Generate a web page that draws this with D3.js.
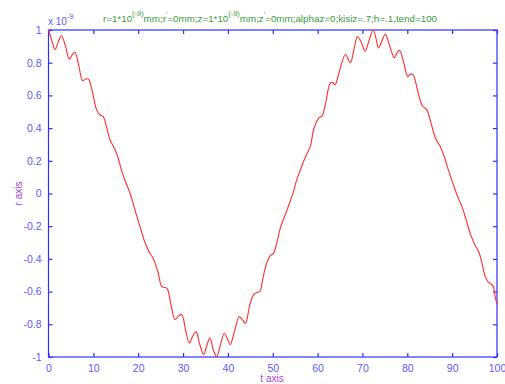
<!DOCTYPE html>
<html>
<head>
<meta charset="utf-8">
<script src="https://cdn.jsdelivr.net/npm/d3@7/dist/d3.min.js"></script>
<style>
  html, body { margin: 0; padding: 0; background: #fff; }
  svg { display: block; font-family: "Liberation Sans", Arial, sans-serif; }
</style>
</head>
<body>
<svg id="chart" width="505" height="384"></svg>
<script>
// r(t), in units of 1e-9 (the axis multiplier)
const tValues = [
  0, 0.7, 1.45, 2.2, 2.9, 3.8, 4.65, 5.3, 5.9, 6.7, 7.6, 8.3, 8.9, 9.8, 10.75,
  11.5, 12.2, 13, 13.7, 14.8, 15.5, 16.3, 17.2, 18.2, 19.7, 20.6, 21.5, 22.5,
  23.4, 24.4, 25.3, 26.4, 27.3, 28.2, 29.0, 29.7, 30.6, 31.4, 32.2, 32.9, 33.8,
  34.6, 35.3, 36.0, 36.8, 37.5, 38.4, 39.2, 39.9, 40.5, 41.5, 42.5, 43.2, 43.9,
  44.9, 45.7, 46.4, 47.1, 47.8, 48.7, 49.5, 50.2, 51, 51.7, 53.2, 54.6, 55.3,
  56.1, 57.3, 58.4, 59.1, 60.2, 61.0, 61.7, 62.8, 63.3, 63.9, 64.5, 65.1, 66.2,
  67.3, 68.1, 68.9, 69.8, 70.6, 71.5, 72.4, 73.0, 73.6, 74.3, 75.1, 76.1, 77.1,
  77.7, 78.3, 79.2, 80.1, 80.7, 81.3, 82.3, 83.3, 84.4, 85.1, 85.9, 86.6, 87.4,
  88.3, 89.2, 90.7, 91.4, 92.2, 93.1, 94.1, 95.0, 95.9, 96.6, 97.4, 98.0, 98.5,
  99.1, 99.6, 100
];
const rValues = [
  1.0, 0.94, 0.88, 0.93, 0.965, 0.9, 0.82, 0.85, 0.864, 0.79, 0.69, 0.70, 0.70,
  0.62, 0.51, 0.48, 0.47, 0.40, 0.33, 0.27, 0.22, 0.14, 0.07, 0.0, -0.14, -0.22,
  -0.30, -0.36, -0.40, -0.48, -0.57, -0.58, -0.68, -0.77, -0.75, -0.74, -0.84,
  -0.915, -0.87, -0.845, -0.93, -0.985, -0.93, -0.885, -0.96, -0.998, -0.92,
  -0.855, -0.89, -0.925, -0.84, -0.755, -0.77, -0.795, -0.68, -0.62, -0.605,
  -0.60, -0.52, -0.42, -0.38, -0.365, -0.29, -0.21, -0.10, 0.01, 0.08, 0.14,
  0.225, 0.29, 0.39, 0.46, 0.475, 0.54, 0.675, 0.68, 0.665, 0.71, 0.77, 0.85,
  0.80, 0.88, 0.96, 0.92, 0.87, 0.94, 1.0, 0.95, 0.89, 0.93, 0.975, 0.90, 0.83,
  0.86, 0.875, 0.80, 0.715, 0.73, 0.725, 0.63, 0.54, 0.51, 0.45, 0.37, 0.32,
  0.285, 0.22, 0.14, 0.02, -0.03, -0.08, -0.16, -0.25, -0.31, -0.355, -0.42,
  -0.51, -0.54, -0.55, -0.565, -0.63, -0.68
];
const xTicks = [0, 10, 20, 30, 40, 50, 60, 70, 80, 90, 100];
const yTicks = [-1, -0.8, -0.6, -0.4, -0.2, 0, 0.2, 0.4, 0.6, 0.8, 1];
const yExponent = "-9";

const svg = d3.select("#chart");
const plot = { left: 48.5, right: 497, top: 30, bottom: 357 };

const x = d3.scaleLinear().domain([0, 100]).range([plot.left, plot.right]);
const y = d3.scaleLinear().domain([-1, 1]).range([plot.bottom, plot.top]);

const axisColor = "#3030ff";
const labelColor = "#5a5aff";

// box
svg.append("rect")
  .attr("x", plot.left).attr("y", plot.top)
  .attr("width", plot.right - plot.left).attr("height", plot.bottom - plot.top)
  .attr("fill", "none").attr("stroke", axisColor).attr("stroke-width", 1.2);

// axes with inward ticks on all four sides
function styleAxis(g) {
  g.select(".domain").remove();
  g.selectAll(".tick line").attr("stroke", axisColor).attr("stroke-width", 1.2);
  g.selectAll(".tick text").attr("fill", labelColor)
    .style("font-size", "10.5px").style("font-family", "'Liberation Sans', Arial, sans-serif");
}
const fmt = d => String(+d.toFixed(1));

svg.append("g").attr("transform", `translate(0,${plot.bottom})`)
  .call(d3.axisBottom(x).tickValues(xTicks).tickSizeInner(-4).tickSizeOuter(0).tickPadding(8).tickFormat(d3.format("d")))
  .call(styleAxis);
svg.append("g").attr("transform", `translate(0,${plot.top})`)
  .call(d3.axisTop(x).tickValues(xTicks).tickSizeInner(-4).tickSizeOuter(0).tickFormat(""))
  .call(styleAxis);
svg.append("g").attr("transform", `translate(${plot.left},0)`)
  .call(d3.axisLeft(y).tickValues(yTicks).tickSizeInner(-4).tickSizeOuter(0).tickPadding(7).tickFormat(fmt))
  .call(styleAxis);
svg.append("g").attr("transform", `translate(${plot.right},0)`)
  .call(d3.axisRight(y).tickValues(yTicks).tickSizeInner(-4).tickSizeOuter(0).tickFormat(""))
  .call(styleAxis);

// exponent multiplier
const mult = svg.append("text").attr("x", 48).attr("y", 25)
  .attr("fill", labelColor).style("font-size", "10px");
mult.append("tspan").text("x 10");
mult.append("tspan").attr("dy", -6).style("font-size", "7.5px").text(yExponent);

// data line
const pts = tValues.map((t, i) => [t, rValues[i]]);
svg.append("path")
  .datum(pts)
  .attr("fill", "none")
  .attr("stroke", "#ff3535")
  .attr("stroke-width", 1.15)
  .attr("d", d3.line().x(d => x(d[0])).y(d => y(d[1])).curve(d3.curveCatmullRom.alpha(0.5)));

// title
const title = svg.append("text").attr("x", 270).attr("y", 22)
  .attr("text-anchor", "middle").attr("fill", "#3a9e3a").style("font-size", "9.8px");
const parts = [
  ["r=1*10", 0, 9.8], ["(-9)", -6, 7.4], ["mm;r", 6, 9.8], ["'", -5, 7.4],
  ["=0mm;z=1*10", 5, 9.8], ["(-9)", -6, 7.4], ["mm;z", 6, 9.8], ["'", -5, 7.4],
  ["=0mm;alphaz=0;kisiz=.7;h=.1,tend=100", 5, 9.8]
];
parts.forEach(([s, dy, fs]) => {
  title.append("tspan").attr("dy", dy).style("font-size", fs + "px").text(s);
});

// axis labels
svg.append("text").attr("x", 272).attr("y", 382)
  .attr("text-anchor", "middle").attr("fill", "#b040e0").style("font-size", "10px")
  .text("t axis");
svg.append("text").attr("transform", "translate(22,193.5) rotate(-90)")
  .attr("text-anchor", "middle").attr("fill", "#b040e0").style("font-size", "10px")
  .text("r axis");
</script>
</body>
</html>
